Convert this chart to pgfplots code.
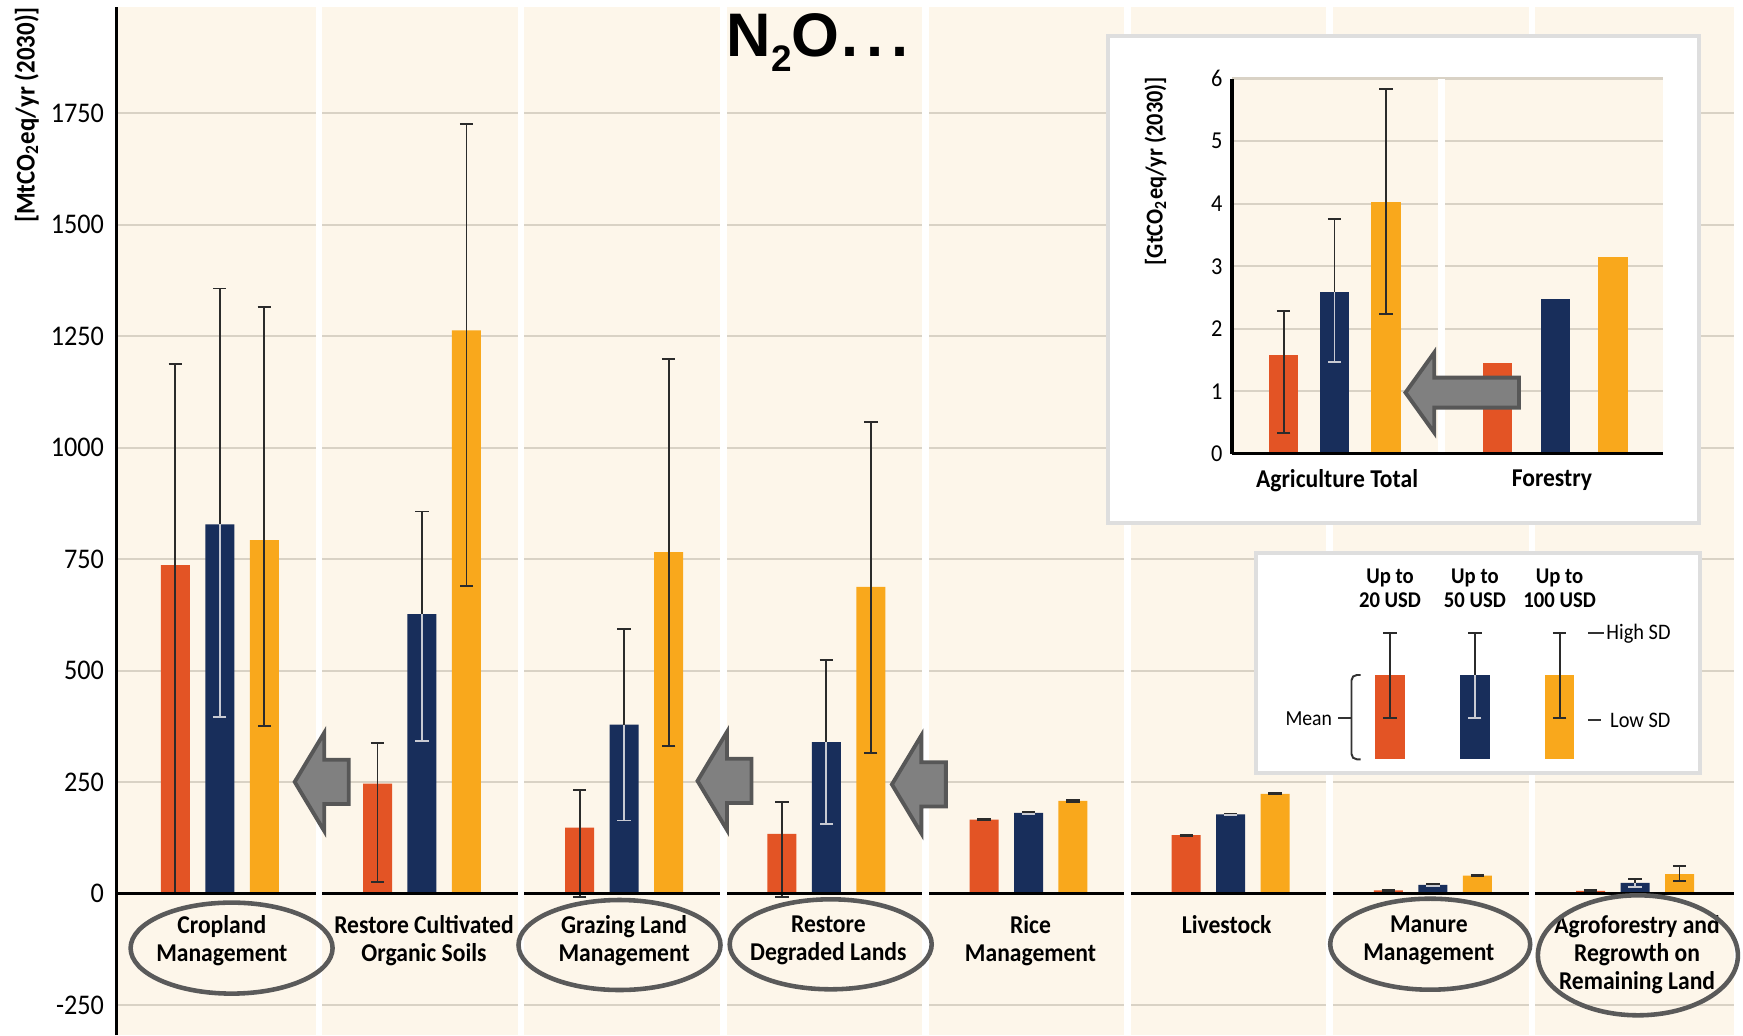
\documentclass[border=0pt]{standalone}
\usepackage{fontspec}
\setmainfont{Carlito}[FakeStretch=0.92]
\newfontfamily\titlefont{Liberation Sans}
\usepackage{pgfplots}
\pgfplotsset{compat=1.18}
\usepackage{pgfplotstable}

\definecolor{cream}{HTML}{FDF6EA}
\definecolor{gridc}{HTML}{D9D2C5}
\definecolor{orng}{HTML}{E35425}
\definecolor{navy}{HTML}{182E5B}
\definecolor{yel}{HTML}{F9A81C}
\definecolor{errd}{HTML}{2B2B2B}
\definecolor{errl}{HTML}{C8CAD2}
\definecolor{arrf}{HTML}{808080}
\definecolor{arrd}{HTML}{575757}
\definecolor{ellc}{HTML}{5A5A5A}

% main chart: x, mean, error plus, error minus
\pgfplotstableread{
x m ep em
-0.21 737 450 737
0.79 247 90 221
1.79 148 84 156
2.79 134 71 142
3.79 166 1.5 1.5
4.79 131 1.5 1.5
5.79 7.5 1.5 1.5
6.79 6 1.5 1.5
}\tO
\pgfplotstableread{
x m ep em
0.01 828 529 431
1.01 627 230 285
2.01 379 215 215
3.01 340 183 183
4.01 181 1.5 1.5
5.01 178 1.5 1.5
6.01 19.5 1.5 1.5
7.01 24 8 9
}\tB
\pgfplotstableread{
x m ep em
0.23 793 522 418
1.23 1263 464 573
2.23 766 433 435
3.23 688 369 373
4.23 208 1.5 1.5
5.23 224 1.5 1.5
6.23 40.5 1.5 1.5
7.23 44 19 16
}\tY
% inset: agriculture total (with SD) and forestry (mean only)
\pgfplotstableread{
x m ep em
-0.26 1.585 0.695 1.255
}\iO
\pgfplotstableread{
x m ep em
-0.024 2.59 1.16 1.115
}\iB
\pgfplotstableread{
x m ep em
0.215 4.03 1.8 1.8
}\iY
\pgfplotstableread{
x m
0.734 1.46
}\fO
\pgfplotstableread{
x m
1.003 2.48
}\fB
\pgfplotstableread{
x m
1.27 3.15
}\fY
% legend sample bars
\pgfplotstableread{
x m ep em
0 84.3 42 43.3
}\lO
\pgfplotstableread{
x m ep em
1 84.3 42 43.3
}\lB
\pgfplotstableread{
x m ep em
2 84.3 42 43.3
}\lY

\pgfplotsset{
  mybar/.style={ybar, bar width=#1, bar shift=0pt, draw=none},
  errs/.style n args={2}{error bars/.cd, y dir=#1, y explicit,
     error bar style={draw=#2, line width=0.55pt},
     error mark options={rotate=90, draw=#2, line width=0.55pt, mark size=1.9pt}},
}
\tikzset{
  lab/.style={anchor=north, align=center, inner sep=0pt, font=\bfseries\fontsize{7.3}{7.95}\selectfont},
  ell/.style={draw=ellc, line width=1.3pt},
  blk/.style={fill=arrf, draw=arrd, line width=1.1pt, line join=miter},
}
\newcommand\blockarrow[2]{\path[blk] (#1,#2) -- ++(0.295,0.49) -- ++(0,-0.268) -- ++(0.245,0) -- ++(0,-0.443) -- ++(-0.245,0) -- ++(0,-0.269) -- cycle;}

\begin{document}
\begin{tikzpicture}
\path[use as bounding box, fill=white] (0,0) rectangle (17.43,10.35);

\begin{axis}[
  at={(1.167cm,0cm)}, anchor=south west,
  scale only axis, width=16.174cm, height=10.283cm,
  xmin=-0.5, xmax=7.5, ymin=-317, ymax=1989,
  axis line style={draw=none},
  axis background/.style={fill=cream},
  xtick=\empty,
  ytick={-250,0,250,500,750,1000,1250,1500,1750},
  yticklabels={-250,0,250,500,750,1000,1250,1500,1750},
  major tick length=0pt,
  ymajorgrids, grid style={gridc, line width=0.6pt},
  yticklabel style={font=\fontsize{8.1}{9}\selectfont, inner sep=0pt, anchor=east, xshift=-0.12cm},
  clip=false,
]
\addplot[mybar=0.29cm, fill=orng, errs={both}{errd}] table[x=x, y=m, y error plus=ep, y error minus=em] {\tO};
\addplot[mybar=0.29cm, fill=navy, errs={plus}{errd}] table[x=x, y=m, y error plus=ep, y error minus=em] {\tB};
\addplot[draw=none, mark=none, errs={minus}{errl}] table[x=x, y=m, y error plus=ep, y error minus=em] {\tB};
\addplot[mybar=0.29cm, fill=yel, errs={both}{errd}] table[x=x, y=m, y error plus=ep, y error minus=em] {\tY};

\draw[black, line width=0.85pt] (axis cs:-0.5,0) -- (axis cs:7.5,0);
\pgfplotsinvokeforeach{0.5,1.5,2.5,3.5,4.5,5.5,6.5}{
  \draw[white, line width=1.9pt] (axis cs:#1,-317) -- (axis cs:#1,1989);
}
\draw[black, line width=0.85pt] (axis cs:-0.5,-317) -- (axis cs:-0.5,1989);

\node[lab] at (axis cs:0.02,-48) {Cropland\\Management};
\node[lab] at (axis cs:1.02,-48) {Restore Cultivated\\Organic Soils};
\node[lab] at (axis cs:2.01,-48) {Grazing Land\\Management};
\node[lab] at (axis cs:3.02,-48) {Restore\\Degraded Lands};
\node[lab] at (axis cs:4.02,-48) {Rice\\Management};
\node[lab] at (axis cs:4.99,-48) {Livestock};
\node[lab] at (axis cs:5.99,-48) {Manure\\Management};
\node[lab] at (axis cs:7.02,-48) {Agroforestry and\\Regrowth on\\Remaining Land};
\end{axis}

% y label of main chart
\node[rotate=90, font=\bfseries\fontsize{7.7}{9}\selectfont, inner sep=0pt] at (0.268,9.2) {[MtCO\textsubscript{2}eq/yr (2030)]};

% title
\node[anchor=base, inner sep=0pt, font=\titlefont\bfseries\fontsize{17.5}{20}\selectfont] at (8.175,9.783) {N\raisebox{-4.3pt}{\fontsize{10.5}{12}\selectfont 2}O\kern0.5pt.\kern2.2pt.\kern2.2pt.};

% ellipses
\draw[ell] (2.316,0.869) ellipse [x radius=1.01, y radius=0.455];
\draw[ell] (6.195,0.90) ellipse [x radius=1.01, y radius=0.45];
\draw[ell] (8.307,0.907) ellipse [x radius=1.01, y radius=0.45];
\draw[ell] (14.302,0.908) ellipse [x radius=1.0, y radius=0.455];
\draw[ell] (16.379,0.797) ellipse [x radius=1.0, y radius=0.60];

% arrows
\blockarrow{2.947}{2.531}
\blockarrow{6.975}{2.541}
\blockarrow{8.919}{2.506}

% inset box
\draw[fill=white, draw=black!13, line width=1.1pt] (11.082,5.116) rectangle (16.994,9.988);
\begin{axis}[
  at={(12.32cm,5.811cm)}, anchor=south west,
  scale only axis, width=4.305cm, height=3.754cm,
  xmin=-0.5, xmax=1.5, ymin=0, ymax=6,
  axis line style={draw=none},
  axis background/.style={fill=cream},
  xtick=\empty,
  ytick={0,1,2,3,4,5,6}, yticklabels={0,1,2,3,4,5,6},
  major tick length=0pt,
  ymajorgrids, grid style={gridc, line width=0.6pt},
  yticklabel style={font=\fontsize{6.9}{8}\selectfont, inner sep=0pt, anchor=east, xshift=-0.09cm},
  clip=false,
]
\addplot[mybar=0.295cm, fill=orng, errs={both}{errd}] table[x=x, y=m, y error plus=ep, y error minus=em] {\iO};
\addplot[mybar=0.295cm, fill=navy, errs={plus}{errd}] table[x=x, y=m, y error plus=ep, y error minus=em] {\iB};
\addplot[draw=none, mark=none, errs={minus}{errl}] table[x=x, y=m, y error plus=ep, y error minus=em] {\iB};
\addplot[mybar=0.295cm, fill=yel, errs={both}{errd}] table[x=x, y=m, y error plus=ep, y error minus=em] {\iY};
\addplot[mybar=0.295cm, fill=orng] table[x=x, y=m] {\fO};
\addplot[mybar=0.295cm, fill=navy] table[x=x, y=m] {\fB};
\addplot[mybar=0.295cm, fill=yel] table[x=x, y=m] {\fY};
\draw[white, line width=1.9pt] (axis cs:0.473,0) -- (axis cs:0.473,6);
\draw[black, line width=0.9pt] (axis cs:-0.5,0) -- (axis cs:1.5,0);
\draw[black, line width=0.9pt] (axis cs:-0.5,0) -- (axis cs:-0.5,6);
\node[inner sep=0pt, font=\bfseries\fontsize{7.3}{8}\selectfont] at (axis cs:-0.012,-0.42) {Agriculture Total};
\node[inner sep=0pt, font=\bfseries\fontsize{7.3}{8}\selectfont] at (axis cs:0.986,-0.42) {Forestry};
\end{axis}
\node[rotate=90, font=\bfseries\fontsize{6.9}{8}\selectfont, inner sep=0pt] at (11.554,8.637) {[GtCO\textsubscript{2}eq/yr (2030)]};
\path[blk] (14.055,6.424) -- ++(0.287,0.40) -- ++(0,-0.25) -- ++(0.848,0) -- ++(0,-0.30) -- ++(-0.848,0) -- ++(0,-0.25) -- cycle;

% legend box
\draw[fill=white, draw=black!13, line width=1.1pt] (12.56,2.623) rectangle (17.003,4.823);
\begin{axis}[
  at={(13.476cm,2.757cm)}, anchor=south west,
  scale only axis, width=2.544cm, height=1.30cm,
  xmin=-0.5, xmax=2.5, ymin=0, ymax=130,
  hide axis, clip=false,
]
\addplot[mybar=0.295cm, fill=orng, errs={both}{errd}] table[x=x, y=m, y error plus=ep, y error minus=em] {\lO};
\addplot[mybar=0.295cm, fill=navy, errs={plus}{errd}] table[x=x, y=m, y error plus=ep, y error minus=em] {\lB};
\addplot[draw=none, mark=none, errs={minus}{errl}] table[x=x, y=m, y error plus=ep, y error minus=em] {\lB};
\addplot[mybar=0.295cm, fill=yel, errs={both}{errd}] table[x=x, y=m, y error plus=ep, y error minus=em] {\lY};
\end{axis}
\begin{scope}[every node/.style={inner sep=0pt}]
\node[align=center, font=\bfseries\fontsize{6.4}{6.7}\selectfont] at (13.90,4.467) {Up to\\20 USD};
\node[align=center, font=\bfseries\fontsize{6.4}{6.7}\selectfont] at (14.749,4.467) {Up to\\50 USD};
\node[align=center, font=\bfseries\fontsize{6.4}{6.7}\selectfont] at (15.596,4.467) {Up to\\100 USD};
\draw[black!80, line width=0.55pt] (15.88,4.017) -- (16.04,4.017);
\node[anchor=west, font=\fontsize{6.3}{7}\selectfont] at (16.057,4.017) {High SD};
\draw[black!80, line width=0.55pt] (15.88,3.15) -- (16.01,3.15);
\node[anchor=west, font=\fontsize{6.3}{7}\selectfont] at (16.095,3.15) {Low SD};
\node[anchor=east, font=\fontsize{6.1}{7}\selectfont] at (13.327,3.167) {Mean};
\draw[black!80, line width=0.55pt] (13.38,3.167) -- (13.51,3.167);
\draw[black!80, line width=0.55pt, rounded corners=1.5pt] (13.607,3.60) -- (13.515,3.60) -- (13.515,2.757) -- (13.607,2.757);
\end{scope}
\end{tikzpicture}
\end{document}
